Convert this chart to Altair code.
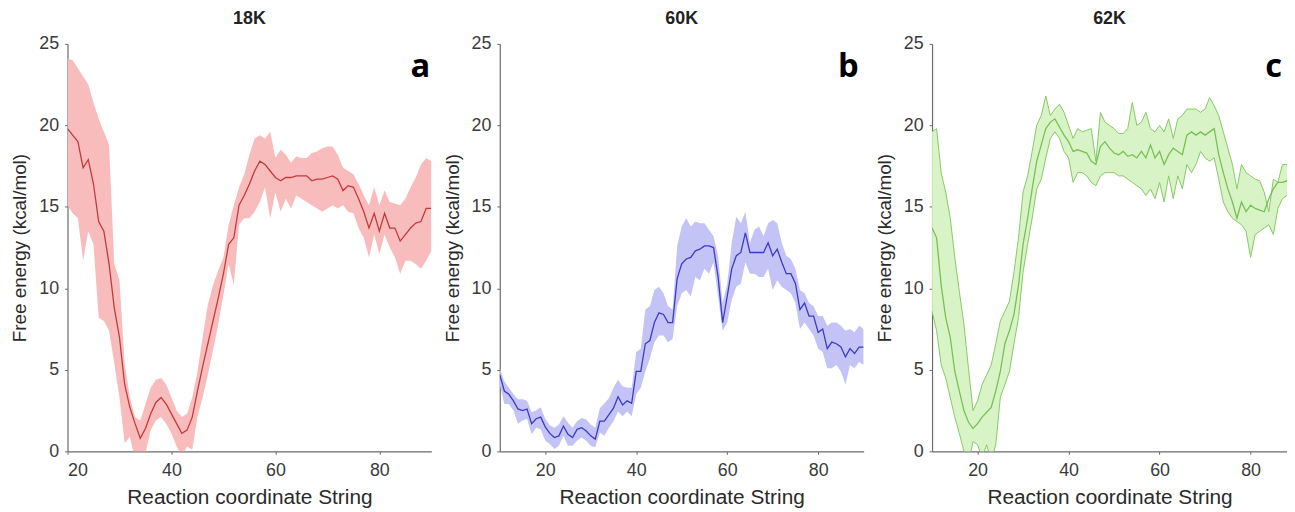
import altair as alt
import pandas as pd

# ---------------- data ----------------
a_x = list(range(20, 91))
a_mean = [19.8, 19.4, 19.0, 17.4, 17.9, 16.4, 14.1, 13.5, 11.5, 8.8,
          7.0, 4.1, 2.7, 1.7, 0.8, 1.4, 2.3, 3.0, 3.3, 2.9,
          2.3, 1.7, 1.1, 1.3, 2.1, 3.7, 5.2, 6.6, 8.0, 9.4,
          10.9, 12.7, 13.1, 15.1, 15.7, 16.4, 17.2, 17.8, 17.6, 17.2,
          16.8, 16.6, 16.8, 16.8, 16.9, 16.9, 16.9, 16.6, 16.7, 16.7,
          16.8, 16.9, 16.7, 16.0, 16.3, 16.2, 15.5, 14.7, 13.7, 14.6,
          13.5, 14.6, 13.7, 13.7, 12.9, 13.3, 13.7, 14.0, 14.1, 14.9,
          14.9]
a_hi = [24.1, 24.0, 23.5, 23.0, 22.5, 21.4, 20.4, 19.6, 18.8, 11.5,
        10.5, 5.4, 3.3, 2.1, 1.9, 2.9, 3.9, 4.4, 4.5, 4.1,
        3.3, 2.5, 2.1, 2.3, 3.3, 4.9, 7.0, 9.0, 10.2, 11.1,
        11.9, 13.9, 15.1, 16.2, 17.0, 18.2, 19.2, 19.4, 19.2, 19.6,
        18.0, 18.5, 18.2, 17.7, 18.1, 18.0, 18.0, 18.3, 18.4, 18.6,
        18.7, 18.7, 18.2, 17.4, 17.2, 17.0, 16.4, 15.7, 15.1, 16.2,
        15.1, 16.0, 15.3, 15.2, 15.1, 15.5, 16.2, 16.8, 17.6, 18.0,
        17.8]
a_lo = [15.1, 14.6, 14.3, 11.7, 13.5, 12.7, 8.2, 8.0, 7.4, 5.4,
        3.3, 0.5, 0.9, -0.5, -0.5, -0.1, 1.3, 1.9, 2.1, 1.7,
        1.1, 0.3, -0.3, 0.3, 0.1, 2.1, 3.3, 4.7, 6.2, 7.8,
        9.6, 11.5, 10.2, 13.9, 14.3, 14.3, 14.7, 15.3, 16.2, 14.3,
        15.9, 14.7, 15.5, 14.9, 15.7, 15.5, 15.3, 15.1, 14.9, 14.7,
        14.9, 15.1, 14.9, 15.1, 14.7, 14.6, 13.7, 13.1, 11.9, 13.3,
        12.1, 13.3, 12.5, 11.9, 10.9, 11.7, 11.7, 11.5, 11.2, 11.7,
        12.3]

b_x = list(range(10, 91))
b_mean = [4.7, 3.7, 3.5, 3.1, 2.6, 2.5, 2.6, 1.7, 2.0, 2.1,
          1.5, 1.1, 0.85, 0.95, 1.55, 1.05, 0.85, 1.35, 1.45, 1.25,
          0.95, 0.75, 1.85, 1.85, 2.25, 2.65, 3.35, 2.85, 3.1, 2.95,
          4.9, 4.9, 6.6, 6.8, 7.9, 8.5, 8.4, 7.9, 7.9, 10.6,
          11.5, 11.8, 11.9, 12.3, 12.4, 12.6, 12.6, 12.5, 10.7, 7.9,
          9.5, 11.2, 12.0, 12.2, 13.4, 12.2, 12.2, 12.2, 12.2, 12.8,
          12.0, 12.4, 11.6, 10.9, 10.9, 10.3, 8.7, 9.1, 8.3, 8.3,
          7.3, 7.5, 6.3, 6.7, 6.6, 6.4, 5.8, 6.3, 6.0, 6.4,
          6.4]
b_hi = [5.1, 4.3, 3.9, 3.5, 3.2, 3.2, 3.1, 2.4, 2.5, 2.7,
        2.0, 1.6, 1.45, 1.65, 2.15, 1.75, 1.45, 1.85, 2.05, 1.95,
        1.65, 1.45, 2.65, 2.95, 3.25, 3.9, 4.4, 4.0, 3.9, 3.9,
        6.1, 6.3, 8.7, 8.9, 9.9, 10.1, 9.7, 8.9, 8.7, 12.6,
        13.8, 14.3, 13.8, 14.1, 14.0, 14.0, 13.6, 13.2, 12.0, 9.1,
        10.3, 12.8, 14.4, 14.0, 14.7, 12.8, 13.6, 13.8, 13.2, 14.0,
        14.2, 14.0, 12.8, 12.0, 11.8, 11.2, 9.9, 9.7, 9.1, 8.9,
        8.3, 8.3, 7.7, 7.9, 7.9, 7.7, 7.4, 7.5, 7.3, 7.7,
        7.5]
b_lo = [4.1, 2.9, 2.9, 2.5, 1.7, 1.9, 2.0, 1.05, 1.45, 1.35,
        0.65, 0.45, 0.15, 0.35, 0.95, 0.35, 0.35, 0.65, 0.85, 0.65,
        0.35, 0.25, 1.15, 0.95, 1.45, 1.85, 2.45, 2.15, 2.45, 2.15,
        3.5, 3.9, 4.9, 5.7, 6.7, 7.1, 7.1, 6.7, 6.9, 8.9,
        9.7, 9.9, 9.5, 10.7, 10.5, 11.2, 10.9, 11.6, 9.5, 7.4,
        7.9, 9.3, 10.1, 10.3, 11.6, 10.9, 10.9, 10.7, 10.7, 11.2,
        9.9, 10.5, 10.1, 9.9, 9.7, 9.1, 7.5, 7.9, 7.5, 7.1,
        6.3, 6.1, 5.1, 5.1, 5.3, 4.9, 4.1, 5.3, 5.1, 5.5,
        5.3]

c_x = list(range(10, 90))
c_mean = [13.7, 13.1, 10.2, 8.2, 7.0, 4.9, 3.7, 2.5, 1.8, 1.4,
          1.7, 2.1, 2.4, 2.7, 3.7, 4.9, 6.6, 7.4, 8.4, 10.2,
          12.7, 14.3, 16.1, 17.8, 18.8, 19.8, 20.2, 20.4, 19.9, 19.4,
          19.0, 18.4, 18.5, 18.4, 18.3, 17.8, 17.6, 18.7, 19.0, 18.6,
          18.3, 18.2, 18.4, 18.1, 18.2, 18.0, 18.4, 18.0, 18.8, 18.0,
          18.4, 17.6, 18.2, 18.6, 18.4, 18.2, 19.4, 19.6, 19.4, 19.6,
          19.4, 19.6, 19.8, 18.2, 17.1, 16.1, 15.3, 14.3, 15.3, 14.7,
          15.1, 14.9, 14.8, 14.7, 15.5, 16.1, 16.5, 16.5, 16.6, 16.6]
c_hi = [19.6, 19.8, 17.1, 15.9, 14.3, 11.9, 9.8, 7.8, 5.1, 2.5,
        3.1, 4.1, 4.7, 5.3, 6.6, 8.0, 8.6, 9.2, 11.0, 13.1,
        15.9, 16.9, 18.4, 20.0, 20.6, 21.8, 20.6, 21.0, 21.3, 20.8,
        20.0, 19.2, 19.8, 19.6, 19.7, 19.8, 17.8, 20.8, 20.2, 20.0,
        19.8, 19.5, 19.5, 19.8, 21.4, 20.0, 20.2, 20.8, 19.8, 19.6,
        20.0, 19.6, 20.4, 19.2, 20.4, 20.6, 21.0, 21.0, 21.0, 20.8,
        21.0, 21.7, 21.2, 20.6, 19.6, 18.6, 17.6, 16.1, 17.6, 17.1,
        16.9, 16.7, 16.6, 15.9, 14.7, 16.7, 16.5, 17.6, 17.6, 17.7]
c_lo = [8.6, 7.4, 5.3, 4.5, 3.3, 2.1, 1.1, 0.0, -0.8, 0.6,
        0.4, -0.4, 0.4, -0.6, 0.4, 3.3, 4.1, 4.9, 6.6, 8.2,
        11.0, 12.7, 14.3, 16.1, 16.7, 18.0, 19.2, 19.6, 19.2, 18.4,
        18.0, 16.5, 17.1, 17.1, 16.9, 16.5, 16.3, 16.9, 17.1, 17.1,
        17.1, 16.9, 16.9, 16.7, 16.5, 16.3, 16.1, 15.7, 16.1, 15.5,
        16.5, 15.3, 16.9, 15.5, 16.9, 16.1, 17.6, 17.1, 17.6, 18.4,
        18.0, 17.8, 18.0, 16.7, 15.3, 14.7, 14.3, 14.1, 13.9, 13.5,
        11.9, 13.3, 13.5, 13.7, 13.9, 13.3, 14.9, 15.5, 15.7, 15.5]

x_ticks = [20, 40, 60, 80]
y_ticks = [0, 5, 10, 15, 20, 25]

FONT = "Liberation Sans"
PLOT_H = 411


def panel(xs, mean, hi, lo, title, letter, fill, line, edge, xdom, width,
          show_edges, letter_inset):
    df = pd.DataFrame({"x": xs, "mean": mean, "hi": hi, "lo": lo})
    base = alt.Chart(df)
    xenc = alt.X("x:Q",
                 scale=alt.Scale(domain=xdom, nice=False, zero=False),
                 axis=alt.Axis(values=x_ticks, title="Reaction coordinate String"))

    def yenc(field):
        return alt.Y(field,
                     type="quantitative",
                     scale=alt.Scale(domain=[0, 25], nice=False),
                     axis=alt.Axis(values=y_ticks,
                                   title="Free energy (kcal/mol)"))

    band = base.mark_area(color=fill, opacity=1, clip=True).encode(
        x=xenc, y=yenc("lo"), y2="hi")
    layers = [band]
    if show_edges:
        for f in ["lo", "hi"]:
            layers.append(base.mark_line(color=edge, strokeWidth=1,
                                         clip=True).encode(x=xenc, y=yenc(f)))
    layers.append(base.mark_line(color=line, strokeWidth=1.3,
                                 clip=True).encode(x=xenc, y=yenc("mean")))
    lab = alt.Chart(pd.DataFrame({"t": [letter]})).mark_text(
        font="Open Sans", fontSize=33, fontWeight="bold", color="black",
        align="right", baseline="alphabetic").encode(
        text="t:N", x=alt.value(width - letter_inset), y=alt.value(33))
    layers.append(lab)
    return alt.layer(*layers).properties(
        width=width, height=PLOT_H,
        title=alt.TitleParams(title, font=FONT, fontSize=18,
                              fontWeight="bold", color="#222222",
                              anchor="middle", offset=7))


pa = panel(a_x, a_mean, a_hi, a_lo, "18K", "a", "#f9bcbc", "#c23b3b",
           "#e89090", [20, 90], 367, False, 1)
pb = panel(b_x, b_mean, b_hi, b_lo, "60K", "b", "#c3c3f5", "#3a3ac6",
           "#9a9ae8", [10, 90], 367, False, 5)
pc = panel(c_x, c_mean, c_hi, c_lo, "62K", "c", "#d8f4c6", "#78bf55",
           "#86c866", [10, 88], 358, True, 5)

chart = alt.hconcat(pa, pb, pc, spacing=11).properties(
    padding={"left": 2, "top": 0, "right": 0, "bottom": 0}
).configure_view(strokeWidth=0).configure_axis(
    grid=False, domainColor="#6b6b6b", domainWidth=1.2, ticks=True,
    tickColor="#6b6b6b", tickSize=3, labelFont=FONT, labelFontSize=18,
    labelColor="#3a3a3a", titleFont=FONT,
    titleFontWeight="normal", titleColor="#2a2a2a"
).configure_axisY(titlePadding=9, labelPadding=6, titleFontSize=19
).configure_axisX(titlePadding=8, labelPadding=7, titleFontSize=21)

chart.save("out.html", embed_options={"renderer": "svg", "actions": False})
